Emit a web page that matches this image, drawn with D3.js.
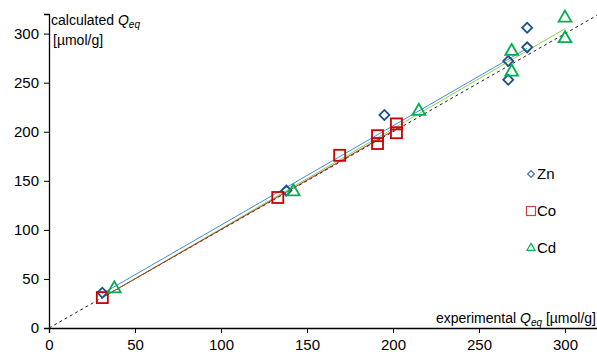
<!DOCTYPE html>
<html>
<head>
<meta charset="utf-8">
<script src="https://cdn.jsdelivr.net/npm/d3@7"></script>
<style>
  body { margin: 0; background: #fff; }
  svg { display: block; font-family: "Liberation Sans", Arial, sans-serif; }
</style>
</head>
<body>
<div id="chart"></div>
<script>
// measured points, [experimental, calculated]
const zn = [[31, 36], [138, 140], [195, 217], [267, 253], [267, 272], [278, 286], [278, 306]]
const co = [[31, 31], [133, 133], [169, 176], [191, 196], [191, 188], [202, 208], [202, 199]]
const cd = [[38, 40], [142, 139], [215, 221], [269, 282], [269, 261], [300, 316], [300, 295]]

// fitted lines (end points)
const fitZn = [[31, 35], [278, 285]]
const fitCo = [[31, 31], [203, 204]]
const fitCd = [[38, 38], [300, 305]]
const diagonal = [[0, 0], [320, 320]]

const tickValues = [0, 50, 100, 150, 200, 250, 300]
const seriesNames = ["Zn", "Co", "Cd"]

const WIDTH = 597
const HEIGHT = 354
const MARGIN = { LEFT: 49, TOP: 14, BOTTOM: 26 }

const svg = d3.select("#chart")
	.append("svg")
		.attr("width", WIDTH)
		.attr("height", HEIGHT)

const x = d3.scaleLinear()
	.domain([0, 320])
	.range([MARGIN.LEFT, MARGIN.LEFT + 320 * 1.72])

const y = d3.scaleLinear()
	.domain([0, 320])
	.range([HEIGHT - MARGIN.BOTTOM, MARGIN.TOP])

const line = d3.line()
	.x(d => x(d[0]))
	.y(d => y(d[1]))

// axes
const xAxis = svg.append("g")
	.attr("transform", `translate(0, ${y(0)})`)
	.call(d3.axisBottom(x).tickValues(tickValues).tickSizeOuter(0).tickSize(5).tickPadding(6))

const yAxis = svg.append("g")
	.attr("transform", `translate(${x(0)}, 0)`)
	.call(d3.axisLeft(y).tickValues(tickValues).tickSizeOuter(0).tickSize(5).tickPadding(5))

;[xAxis, yAxis].forEach(g => {
	g.selectAll("text").attr("font-size", "15px").attr("fill", "#000").attr("font-family", "Liberation Sans, Arial, sans-serif")
	g.selectAll("line").attr("stroke", "#000")
	g.select(".domain").attr("stroke", "#000").attr("stroke-width", 1.3)
})

// diagonal y = x
svg.append("path")
	.datum(diagonal)
	.attr("d", line)
	.attr("fill", "none")
	.attr("stroke", "#222")
	.attr("stroke-width", 1)
	.attr("stroke-dasharray", "3,3")

// fit lines
const fits = [
	{ data: fitZn, color: "#3a8fdc" },
	{ data: fitCd, color: "#92d050" },
	{ data: fitCo, color: "#b03030" }
]
fits.forEach(f => {
	svg.append("path")
		.datum(f.data)
		.attr("d", line)
		.attr("fill", "none")
		.attr("stroke", f.color)
		.attr("stroke-width", 1)
})

// markers
const diamond = d3.symbol().type(d3.symbolSquare).size(50)
svg.append("g").selectAll("path")
	.data(zn)
	.enter().append("path")
		.attr("d", diamond)
		.attr("transform", d => `translate(${x(d[0])}, ${y(d[1])}) rotate(45)`)
		.attr("fill", "none")
		.attr("stroke", "#1f4e8c")
		.attr("stroke-width", 1.8)

svg.append("g").selectAll("rect")
	.data(co)
	.enter().append("rect")
		.attr("x", d => x(d[0]) - 5.5)
		.attr("y", d => y(d[1]) - 5.5)
		.attr("width", 11)
		.attr("height", 11)
		.attr("fill", "none")
		.attr("stroke", "#cc0000")
		.attr("stroke-width", 1.8)

const tri = d3.symbol().type(d3.symbolTriangle).size(70)
svg.append("g").selectAll("path")
	.data(cd)
	.enter().append("path")
		.attr("d", tri)
		.attr("transform", d => `translate(${x(d[0])}, ${y(d[1])})`)
		.attr("fill", "none")
		.attr("stroke", "#00b050")
		.attr("stroke-width", 1.8)

// legend
const legend = svg.append("g").attr("transform", "translate(531, 0)")
const legendY = [174, 211, 248]
legend.append("path")
	.attr("d", d3.symbol().type(d3.symbolSquare).size(22))
	.attr("transform", `translate(0, ${legendY[0]}) rotate(45)`)
	.attr("fill", "none").attr("stroke", "#4a6aa8").attr("stroke-width", 1.2)
legend.append("rect")
	.attr("x", -4.5).attr("y", legendY[1] - 4.5).attr("width", 9).attr("height", 9)
	.attr("fill", "none").attr("stroke", "#cc4444").attr("stroke-width", 1.2)
legend.append("path")
	.attr("d", d3.symbol().type(d3.symbolTriangle).size(28))
	.attr("transform", `translate(0, ${legendY[2]})`)
	.attr("fill", "none").attr("stroke", "#00b050").attr("stroke-width", 1.2)
legend.selectAll("text")
	.data(seriesNames)
	.enter().append("text")
		.attr("x", 6)
		.attr("y", (d, i) => legendY[i] + 5)
		.attr("font-size", "15px")
		.text(d => d)

// axis titles
const yTitle = svg.append("text")
	.attr("x", 51)
	.attr("y", 25)
	.attr("font-size", "14px")
yTitle.append("tspan").text("calculated ")
yTitle.append("tspan").attr("font-style", "italic").text("Q")
yTitle.append("tspan").attr("font-style", "italic").attr("font-size", "10px").attr("dy", 3).text("eq")
svg.append("text")
	.attr("x", 53)
	.attr("y", 45)
	.attr("font-size", "14px")
	.text("[µmol/g]")

const xTitle = svg.append("text")
	.attr("x", 596)
	.attr("y", 323)
	.attr("text-anchor", "end")
	.attr("font-size", "14px")
xTitle.append("tspan").text("experimental ")
xTitle.append("tspan").attr("font-style", "italic").text("Q")
xTitle.append("tspan").attr("font-style", "italic").attr("font-size", "10px").attr("dy", 3).text("eq")
xTitle.append("tspan").attr("dy", -3).text(" [µmol/g]")
</script>
</body>
</html>
